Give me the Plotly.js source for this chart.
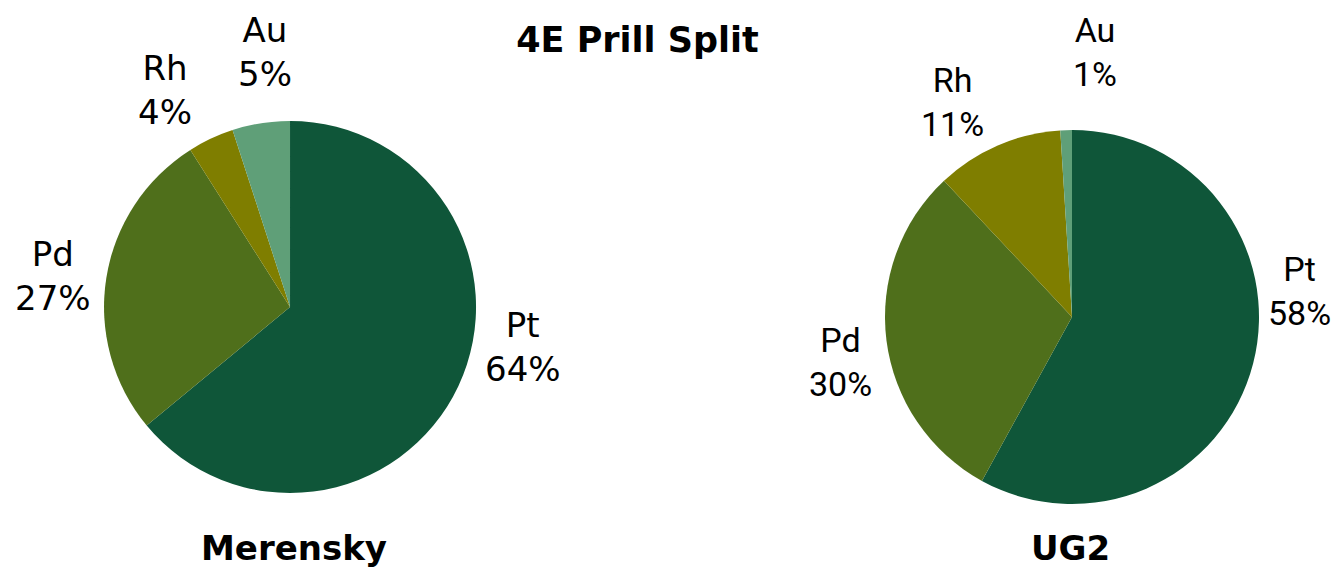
<!DOCTYPE html>
<html>
<head>
<meta charset="utf-8">
<script src="https://cdn.plot.ly/plotly-3.0.1.min.js"></script>
<style>
html,body{margin:0;padding:0;background:#fff;}
#chart{width:1335px;height:567px;}
</style>
</head>
<body>
<div id="chart"></div>
<script>
const metals = ["Pt", "Pd", "Rh", "Au"];
const merenskyValues = [64, 27, 4, 5];
const ug2Values = [58, 30, 11, 1];
const sliceColors = ["#0f5639", "#4f6f1b", "#7f7e00", "#5f9f78"];
const chartTitle = "4E Prill Split";
const pieTitles = ["Merensky", "UG2"];

const FONT = "DejaVu Sans, Verdana, sans-serif";
const W = 1335, H = 567;

// layout / style settings (not data)
const pies = [
  {values: merenskyValues, title: pieTitles[0], domain: {x: [0.0779, 0.3566], y: [0.1305, 0.7866]}, titleX: 294,
   labelFont: FONT,
   // label placement: angular nudge from slice mid-angle (deg) and distance from centre (px), Excel-like "best fit"
   nudge: [-15.5, -1.5, -4.8, 3.4], dist: [236, 239, 250, 256]},
  {values: ug2Values, title: pieTitles[1], domain: {x: [0.6629, 0.9431], y: [0.1111, 0.7707]}, titleX: 1070,
   labelFont: "Roboto, DejaVu Sans, sans-serif",
   nudge: [-20.9, -3.8, -5.6, 6.8], dist: [229, 236, 246, 266]}
];

const data = pies.map(p => ({
  type: "pie",
  labels: metals,
  values: p.values,
  sort: false,
  direction: "clockwise",
  rotation: 0,
  marker: {colors: sliceColors, line: {width: 0}},
  textposition: "none",
  hoverinfo: "label+percent",
  domain: p.domain,
  automargin: false,
  showlegend: false
}));

const annotations = [];
pies.forEach(p => {
  const cx = (p.domain.x[0] + p.domain.x[1]) / 2 * W;
  const cy = (1 - (p.domain.y[0] + p.domain.y[1]) / 2) * H;
  const total = p.values.reduce((a, b) => a + b, 0);
  let cum = 0;
  p.values.forEach((v, i) => {
    const mid = (cum + v / 2) / total * 360;
    cum += v;
    const ang = (mid + p.nudge[i]) * Math.PI / 180;
    const lx = cx + p.dist[i] * Math.sin(ang);
    const ly = cy - p.dist[i] * Math.cos(ang);
    const pct = Math.round(v / total * 100);
    annotations.push({
      text: metals[i] + "<br>" + pct + "%",
      xref: "paper", yref: "paper",
      x: lx / W, y: 1 - ly / H,
      xanchor: "center", yanchor: "middle",
      showarrow: false, align: "center",
      font: {family: p.labelFont, size: 34, color: "#000"}
    });
  });
  annotations.push({
    text: "<b>" + p.title + "</b>",
    xref: "paper", yref: "paper",
    x: p.titleX / W, y: 0.034,
    xanchor: "center", yanchor: "middle",
    showarrow: false,
    font: {family: FONT, size: 34, color: "#000"}
  });
});

const layout = {
  width: W,
  height: H,
  margin: {l: 0, r: 0, t: 0, b: 0},
  paper_bgcolor: "#fff",
  font: {family: FONT, color: "#000"},
  title: {text: "<b>" + chartTitle + "</b>", x: 637.5 / W, xanchor: "center", y: 0.93, yanchor: "middle", font: {family: FONT, size: 35, color: "#000"}},
  showlegend: false,
  annotations: annotations
};

Plotly.newPlot("chart", data, layout, {displayModeBar: false, staticPlot: true});
</script>
</body>
</html>
